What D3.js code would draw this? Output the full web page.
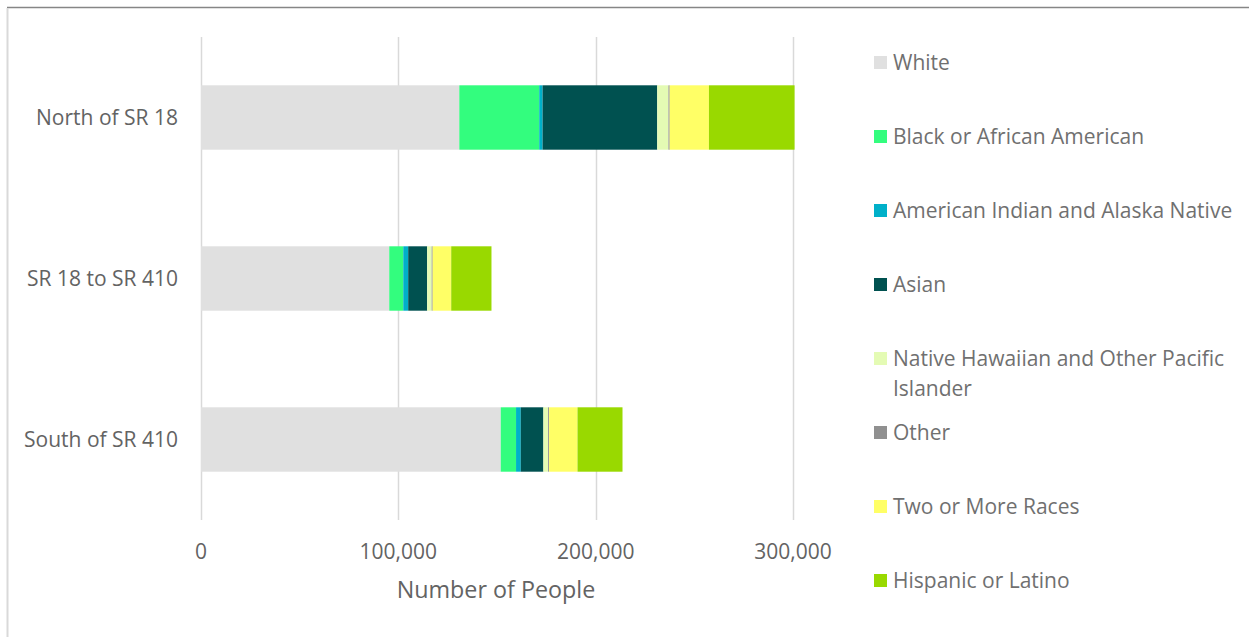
<!DOCTYPE html>
<html>
<head>
<meta charset="utf-8">
<script src="https://cdn.jsdelivr.net/npm/d3@7"></script>
<style>
  body { margin: 0; background: #fff; }
  text { font-family: "Open Sans", "Noto Sans", sans-serif; }
</style>
</head>
<body>
<script>
// Population by race / ethnicity for each area
var areas = ["North of SR 18", "SR 18 to SR 410", "South of SR 410"];
var races = ["White", "Black or African American", "American Indian and Alaska Native",
             "Asian", "Native Hawaiian and Other Pacific Islander", "Other",
             "Two or More Races", "Hispanic or Latino"];
var white    = [130900, 95400, 151900];
var black    = [40500, 7100, 7750];
var amIndian = [1700, 2500, 2400];
var asian    = [58100, 9600, 11450];
var nhpi     = [5700, 2300, 2400];
var other    = [600, 500, 500];
var twoPlus  = [19900, 9400, 14400];
var hispanic = [43400, 20400, 22800];
var xTicks = [0, 100000, 200000, 300000];

var colors = ["#e0e0e0", "#33fd7e", "#00b0c9", "#005150", "#e4fbb4", "#909090", "#ffff66", "#99d900"];

var w = 1249, h = 637;
var svg = d3.select("body").append("svg").attr("width", w).attr("height", h);

// frame
svg.append("line").attr("x1", 7).attr("x2", w).attr("y1", 7.5).attr("y2", 7.5)
   .attr("stroke", "#868686").attr("stroke-width", 1.5);
svg.append("line").attr("x1", 7.5).attr("x2", 7.5).attr("y1", 8).attr("y2", h)
   .attr("stroke", "#d9d9d9").attr("stroke-width", 2);

// build table rows
var table = areas.map(function(a, i) {
    return { area: a, values: [white[i], black[i], amIndian[i], asian[i], nhpi[i], other[i], twoPlus[i], hispanic[i]] };
});

var x = d3.scaleLinear().domain([0, 300000]).range([201, 793]);
var y = d3.scaleBand().domain(areas).range([37, 520]).paddingInner(0.6).paddingOuter(0.3);

// gridlines
svg.selectAll(".grid")
   .data(xTicks)
   .enter()
   .append("line")
   .attr("x1", function(d) { return Math.round(x(d)) + 0.5; })
   .attr("x2", function(d) { return Math.round(x(d)) + 0.5; })
   .attr("y1", 37).attr("y2", 520)
   .attr("stroke", "#d9d9d9").attr("stroke-width", 1.5);

// stacked bars
var stack = d3.stack().keys(d3.range(races.length)).value(function(d, k) { return d.values[k]; });
var series = stack(table);

svg.selectAll(".series")
   .data(series)
   .enter()
   .append("g")
   .attr("fill", function(d, i) { return colors[i]; })
   .selectAll("rect")
   .data(function(d) { return d; })
   .enter()
   .append("rect")
   .attr("x", function(d) { return x(d[0]); })
   .attr("width", function(d) { return x(d[1]) - x(d[0]); })
   .attr("y", function(d) { return y(d.data.area); })
   .attr("height", y.bandwidth());

// category labels
svg.selectAll(".cat")
   .data(areas)
   .enter()
   .append("text")
   .attr("x", 178)
   .attr("y", function(d) { return y(d) + y.bandwidth() / 2; })
   .attr("dy", "0.35em")
   .attr("text-anchor", "end")
   .attr("font-size", 21)
   .attr("fill", "#636363")
   .text(function(d) { return d; });

// x axis tick labels
svg.selectAll(".tick-label")
   .data(xTicks)
   .enter()
   .append("text")
   .attr("x", function(d) { return x(d); })
   .attr("y", 552)
   .attr("dy", "0.35em")
   .attr("text-anchor", "middle")
   .attr("font-size", 21)
   .attr("fill", "#636363")
   .text(d3.format(","));

svg.append("text")
   .attr("x", 496).attr("y", 590).attr("dy", "0.35em")
   .attr("text-anchor", "middle")
   .attr("font-size", 23.3)
   .attr("fill", "#636363")
   .text("Number of People");

// legend
var legendY = [63, 137, 211, 285, 359, 433, 507, 581];
var leg = svg.selectAll(".legend")
   .data(races)
   .enter()
   .append("g")
   .attr("transform", function(d, i) { return "translate(874," + legendY[i] + ")"; });

leg.append("rect")
   .attr("x", 0).attr("y", -7)
   .attr("width", 13).attr("height", 13)
   .attr("fill", function(d, i) { return colors[i]; });

leg.append("text")
   .attr("x", 19)
   .attr("dy", "0.35em")
   .attr("font-size", 21)
   .attr("fill", "#707070")
   .each(function(d) {
       var t = d3.select(this);
       if (d == "Native Hawaiian and Other Pacific Islander") {
           t.append("tspan").attr("x", 19).text("Native Hawaiian and Other Pacific");
           t.append("tspan").attr("x", 19).attr("dy", 30).text("Islander");
       } else {
           t.text(d);
       }
   });
</script>
</body>
</html>
